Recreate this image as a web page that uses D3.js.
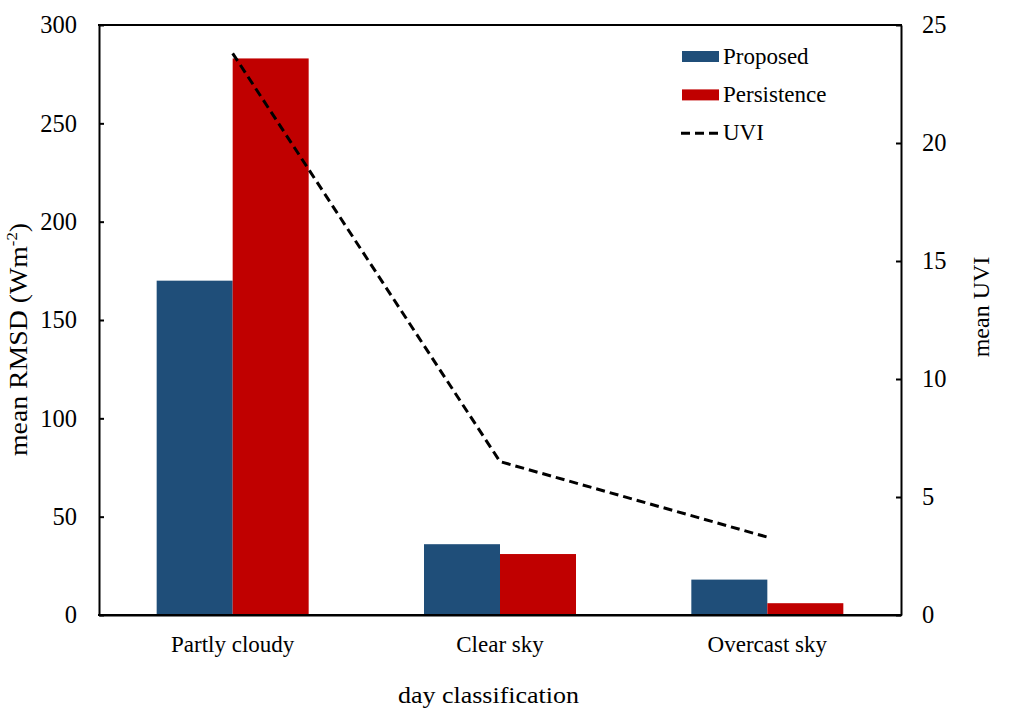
<!DOCTYPE html>
<html><head><meta charset="utf-8">
<script src="https://cdn.jsdelivr.net/npm/d3@7"></script>
<style>
body{margin:0;background:#fff;}
svg text{font-family:"Liberation Serif","Times New Roman",serif;fill:#000;}
</style></head>
<body>
<svg id="c" width="1012" height="711"></svg>
<script>
const categories = ["Partly cloudy", "Clear sky", "Overcast sky"];
const proposed = [170, 36, 18];
const persistence = [283, 31, 6];
const uvi = [23.8, 6.5, 3.3];
const leftTicks = [0, 50, 100, 150, 200, 250, 300];
const rightTicks = [0, 5, 10, 15, 20, 25];
const seriesNames = ["Proposed", "Persistence", "UVI"];
const colors = {Proposed: "#1F4E79", Persistence: "#C00000", UVI: "#000"};

const svg = d3.select("#c");
const m = {l: 99, r: 901, t: 25, b: 615};
const fs = 23;
const FF = '"Liberation Serif","Times New Roman",serif';

const x = d3.scaleBand().domain(categories).range([m.l, m.r]).paddingInner(0).paddingOuter(0);
const y = d3.scaleLinear().domain([0, 300]).range([m.b, m.t]);
const y2 = d3.scaleLinear().domain([0, 25]).range([m.b, m.t]);
const barW = 76;

const bars = svg.append("g");
categories.forEach((c, i) => {
  const cx = x(c) + x.bandwidth() / 2;
  bars.append("rect").attr("x", cx - barW).attr("width", barW)
    .attr("y", y(proposed[i])).attr("height", y(0) - y(proposed[i])).attr("fill", colors.Proposed);
  bars.append("rect").attr("x", cx).attr("width", barW)
    .attr("y", y(persistence[i])).attr("height", y(0) - y(persistence[i])).attr("fill", colors.Persistence);
});

// UVI line
const line = d3.line().x((d, i) => x(categories[i]) + x.bandwidth() / 2).y(d => y2(d));
svg.append("path").datum(uvi).attr("d", line).attr("fill", "none")
  .attr("stroke", "#000").attr("stroke-width", 3).attr("stroke-dasharray", "9,5");

// Axes
const la = d3.axisLeft(y).tickValues(leftTicks).tickSizeInner(-5).tickSizeOuter(0).tickPadding(22);
const gl = svg.append("g").attr("transform", `translate(${m.l},0)`).call(la);
const ra = d3.axisRight(y2).tickValues(rightTicks).tickSizeInner(-5).tickSizeOuter(0).tickPadding(21);
const gr = svg.append("g").attr("transform", `translate(${m.r},0)`).call(ra);
const ba = d3.axisBottom(x).tickSize(0).tickPadding(21);
const gb = svg.append("g").attr("transform", `translate(0,${m.b})`).call(ba);
[gl, gr, gb].forEach(g => {
  g.attr("font-family", null).attr("font-size", null);
  g.selectAll("text").style("font-family", FF).style("font-size", fs + "px").attr("fill", "#000");
  g.selectAll("line").attr("stroke", "#000").attr("stroke-width", 2);
  g.select(".domain").attr("stroke", "#000").attr("stroke-width", 2);
});
gl.selectAll("text").style("font-size", "24.5px");
gr.selectAll("text").style("font-size", "24.5px");
svg.append("line").attr("x1", m.l - 1).attr("x2", m.r + 1).attr("y1", m.t).attr("y2", m.t).attr("stroke", "#000").attr("stroke-width", 2);
svg.append("line").attr("x1", m.l - 1).attr("x2", m.r + 1).attr("y1", m.b).attr("y2", m.b).attr("stroke", "#000").attr("stroke-width", 2);

// Axis titles
const t1 = svg.append("text").attr("transform", `translate(27,339.5) rotate(-90)`)
  .attr("text-anchor", "middle").style("font-size", "25px")
  .attr("textLength", 233).attr("lengthAdjust", "spacingAndGlyphs");
t1.append("tspan").text("mean RMSD (Wm");
t1.append("tspan").text("-2").style("font-size", "15px").attr("dy", -10);
t1.append("tspan").text(")").attr("dy", 10);
svg.append("text").attr("transform", `translate(989,307) rotate(-90)`)
  .attr("text-anchor", "middle").style("font-size", "24px").text("mean UVI");
svg.append("text").attr("x", 398).attr("y", 702.5)
  .attr("textLength", 181).attr("lengthAdjust", "spacingAndGlyphs")
  .style("font-size", "24px").text("day classification");

// Legend
const lg = svg.append("g");
seriesNames.forEach((s, i) => {
  const cy = 56.5 + i * 38.4;
  if (s === "UVI") {
    lg.append("line").attr("x1", 681).attr("x2", 719).attr("y1", cy).attr("y2", cy)
      .attr("stroke", "#000").attr("stroke-width", 3).attr("stroke-dasharray", "9,5");
  } else {
    lg.append("rect").attr("x", 682).attr("y", cy - 5.5).attr("width", 37).attr("height", 11).attr("fill", colors[s]);
  }
  lg.append("text").attr("x", 723).attr("y", cy + 7).style("font-size", fs + "px").text(s);
});
</script>
</body></html>
